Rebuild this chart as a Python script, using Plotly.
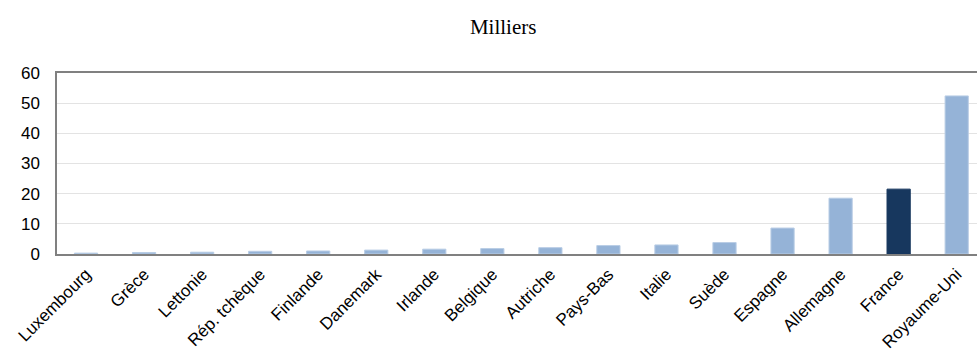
import plotly.graph_objects as go

pays = ["Luxembourg", "Grèce", "Lettonie", "Rép. tchèque", "Finlande", "Danemark",
        "Irlande", "Belgique", "Autriche", "Pays-Bas", "Italie", "Suède",
        "Espagne", "Allemagne", "France", "Royaume-Uni"]
valeurs = [0.3, 0.5, 0.6, 0.9, 1.0, 1.3, 1.6, 1.8, 2.1, 2.8, 3.0, 3.8,
           8.6, 18.5, 21.5, 52.4]
y_ticks = [0, 10, 20, 30, 40, 50, 60]

# France mise en évidence en bleu foncé
couleurs = ["#17375E" if p == "France" else "#95B3D7" for p in pays]
contours = ["#17375E" if p == "France" else "#B9CDE5" for p in pays]

fig = go.Figure(go.Bar(
    x=pays, y=valeurs,
    marker=dict(color=couleurs, line=dict(color=contours, width=1)),
    width=0.4,
))

fig.update_layout(
    width=977, height=356,
    margin=dict(l=57, r=0, t=73, b=102),
    paper_bgcolor="white", plot_bgcolor="white",
    showlegend=False,
    title=dict(text="Milliers", x=0.515, xanchor="center", y=0.925, yanchor="middle",
               font=dict(family="Liberation Serif, Times New Roman, serif",
                         size=21, color="black")),
    font=dict(family="Liberation Sans, Arial, sans-serif", color="black"),
)
fig.update_xaxes(
    range=[-0.5, 15.35], automargin=False,
    tickangle=-45, tickfont=dict(size=17),
    showline=True, linecolor="#808080", linewidth=1.5, mirror=True,
    ticks="", showgrid=False, ticklabelstandoff=2,
)
fig.update_yaxes(
    range=[0, 60], tickvals=y_ticks, tickfont=dict(size=17), automargin=False,
    showline=True, linecolor="#808080", linewidth=1.5, mirror=False,
    gridcolor="#E3E3E3", gridwidth=1, ticks="", zeroline=False,
    ticklabelstandoff=12,
)

fig.write_html("out.html")
